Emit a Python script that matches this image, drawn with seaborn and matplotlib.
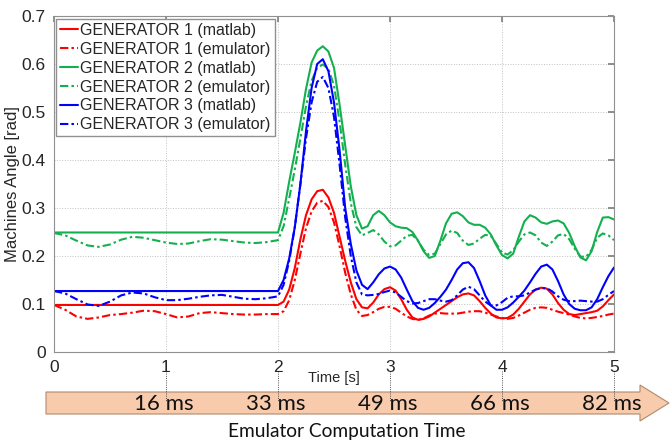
import numpy as np
import pandas as pd
import seaborn as sns
import matplotlib

matplotlib.use("Agg")
import matplotlib.pyplot as plt
from matplotlib.patches import Polygon

# time axis: 0.1 s steps in the steady part, 0.05 s steps after the fault
time_s = np.round(np.r_[np.arange(0, 2.01, 0.1), np.arange(2.05, 5.001, 0.05)], 2)

gen1_matlab = [0.098] * 21 + [
    0.105, 0.130, 0.175, 0.235, 0.285, 0.318, 0.335, 0.338, 0.322, 0.290,
    0.240, 0.190, 0.145, 0.110, 0.093, 0.091, 0.103, 0.120, 0.131, 0.135,
    0.128, 0.110, 0.088, 0.072, 0.067, 0.069, 0.074, 0.082, 0.090, 0.098,
    0.106, 0.114, 0.120, 0.122, 0.118, 0.106, 0.092, 0.080, 0.072, 0.070,
    0.071, 0.078, 0.090, 0.105, 0.120, 0.130, 0.134, 0.132, 0.120, 0.102,
    0.088, 0.079, 0.077, 0.079, 0.081, 0.083, 0.086, 0.095, 0.108, 0.120]
gen1_emulator = [
    0.098, 0.088, 0.074, 0.069, 0.072, 0.077, 0.079, 0.082, 0.086, 0.085,
    0.079, 0.072, 0.074, 0.081, 0.083, 0.081, 0.079, 0.078, 0.078, 0.079, 0.079] + [
    0.085, 0.108, 0.150, 0.205, 0.258, 0.293, 0.311, 0.315, 0.302, 0.270,
    0.220, 0.165, 0.120, 0.088, 0.075, 0.077, 0.083, 0.090, 0.094, 0.094,
    0.090, 0.082, 0.074, 0.069, 0.067, 0.070, 0.076, 0.080, 0.081, 0.080,
    0.080, 0.080, 0.082, 0.084, 0.085, 0.085, 0.082, 0.078, 0.074, 0.071,
    0.069, 0.071, 0.076, 0.082, 0.088, 0.092, 0.093, 0.092, 0.088, 0.084,
    0.081, 0.078, 0.074, 0.071, 0.070, 0.071, 0.073, 0.075, 0.078, 0.080]
gen2_matlab = [0.249] * 21 + [
    0.290, 0.355, 0.415, 0.478, 0.548, 0.603, 0.628, 0.637, 0.626, 0.592,
    0.515, 0.430, 0.345, 0.285, 0.257, 0.262, 0.285, 0.294, 0.285, 0.270,
    0.262, 0.259, 0.258, 0.250, 0.232, 0.210, 0.196, 0.200, 0.232, 0.268,
    0.288, 0.291, 0.283, 0.270, 0.265, 0.265, 0.259, 0.245, 0.222, 0.202,
    0.195, 0.205, 0.240, 0.272, 0.285, 0.280, 0.270, 0.267, 0.272, 0.274,
    0.268, 0.248, 0.220, 0.197, 0.191, 0.210, 0.250, 0.280, 0.281, 0.276]
gen2_emulator = [
    0.248, 0.243, 0.232, 0.222, 0.219, 0.224, 0.234, 0.240, 0.238, 0.233,
    0.228, 0.225, 0.226, 0.231, 0.235, 0.234, 0.231, 0.228, 0.227, 0.229, 0.233] + [
    0.262, 0.320, 0.380, 0.445, 0.512, 0.565, 0.592, 0.599, 0.590, 0.555,
    0.480, 0.390, 0.310, 0.260, 0.243, 0.248, 0.254, 0.245, 0.230, 0.220,
    0.222, 0.232, 0.242, 0.244, 0.232, 0.213, 0.202, 0.205, 0.225, 0.245,
    0.253, 0.248, 0.232, 0.223, 0.226, 0.236, 0.244, 0.242, 0.225, 0.207,
    0.203, 0.212, 0.230, 0.245, 0.249, 0.243, 0.228, 0.221, 0.230, 0.243,
    0.246, 0.235, 0.215, 0.199, 0.198, 0.213, 0.238, 0.247, 0.243, 0.233]
gen3_matlab = [0.127] * 21 + [
    0.150, 0.195, 0.260, 0.350, 0.460, 0.550, 0.600, 0.610, 0.585, 0.520,
    0.420, 0.300, 0.225, 0.170, 0.140, 0.131, 0.145, 0.162, 0.174, 0.178,
    0.172, 0.155, 0.130, 0.106, 0.092, 0.088, 0.092, 0.102, 0.115, 0.130,
    0.150, 0.172, 0.185, 0.187, 0.175, 0.148, 0.118, 0.097, 0.088, 0.088,
    0.093, 0.103, 0.115, 0.128, 0.145, 0.163, 0.178, 0.182, 0.172, 0.148,
    0.120, 0.100, 0.090, 0.087, 0.087, 0.093, 0.110, 0.135, 0.158, 0.176]
gen3_emulator = [
    0.127, 0.122, 0.110, 0.099, 0.096, 0.105, 0.118, 0.124, 0.122, 0.114,
    0.108, 0.108, 0.111, 0.115, 0.118, 0.119, 0.115, 0.111, 0.110, 0.112, 0.116] + [
    0.140, 0.190, 0.260, 0.350, 0.445, 0.520, 0.563, 0.573, 0.550, 0.490,
    0.390, 0.280, 0.200, 0.145, 0.120, 0.118, 0.119, 0.121, 0.125, 0.128,
    0.124, 0.115, 0.106, 0.101, 0.102, 0.106, 0.110, 0.110, 0.107, 0.105,
    0.108, 0.118, 0.130, 0.136, 0.131, 0.118, 0.105, 0.097, 0.097, 0.104,
    0.113, 0.116, 0.116, 0.118, 0.124, 0.130, 0.133, 0.133, 0.126, 0.116,
    0.109, 0.106, 0.106, 0.107, 0.106, 0.105, 0.105, 0.110, 0.119, 0.127]

series = {
    "GENERATOR 1 (matlab)": gen1_matlab,
    "GENERATOR 1 (emulator)": gen1_emulator,
    "GENERATOR 2 (matlab)": gen2_matlab,
    "GENERATOR 2 (emulator)": gen2_emulator,
    "GENERATOR 3 (matlab)": gen3_matlab,
    "GENERATOR 3 (emulator)": gen3_emulator,
}
colors = ["#ff0000", "#ff0000", "#14b04f", "#14b04f", "#0000ff", "#0000ff"]

tick_times = [1, 2, 3, 4, 5]
compute_labels = ["16 ms", "33 ms", "49 ms", "66 ms", "82 ms"]

df = pd.concat(
    [pd.DataFrame({"time": time_s, "angle": v, "series": k}) for k, v in series.items()]
)

sns.set_theme(style="white")
plt.rcParams["font.family"] = ["Liberation Sans", "DejaVu Sans"]

fig = plt.figure(figsize=(6.7, 4.41), dpi=100)
ax = fig.add_axes([54 / 670, 1 - 352 / 441, 560 / 670, 336 / 441])

for (name, vals), c in zip(series.items(), colors):
    ls = "-" if "matlab" in name else (0, (4, 1.5, 1.2, 1.5))
    sns.lineplot(data=df[df.series == name], x="time", y="angle", color=c,
                 linestyle=ls, lw=1.5, errorbar=None, label=name, ax=ax)

ax.set_xlim(0, 5)
ax.set_ylim(0, 0.7)
ax.set_xticks([0, 1, 2, 3, 4, 5])
ax.set_yticks([0, 0.1, 0.2, 0.3, 0.4, 0.5, 0.6, 0.7])
ax.set_yticklabels(["0", "0.1", "0.2", "0.3", "0.4", "0.5", "0.6", "0.7"])
ax.tick_params(direction="in", length=4, color="#808080", labelsize=12.5,
               top=True, right=True, pad=6)
ax.grid(True, linestyle=":", color="#c0c0c0", lw=0.7)
for s in ax.spines.values():
    s.set_color("#909090")
    s.set_linewidth(0.8)

ax.set_xlabel("Time [s]", fontsize=10.5)
ax.xaxis.set_label_coords(0.5, -0.058)
ax.set_ylabel("Machines Angle [rad]", fontsize=12, labelpad=1)

ax.legend(loc="upper left", bbox_to_anchor=(0.004, 0.991), borderaxespad=0,
          fontsize=11.5, frameon=True, fancybox=False, edgecolor="#909090",
          framealpha=1, handlelength=1.1, handletextpad=0.15, labelspacing=0.24,
          borderpad=0.25)

# computation time arrow below the axis
W, H = 670.0, 441.0
pts = [(46, 392), (640, 392), (640, 385), (669, 403), (640, 421), (640, 414), (46, 414)]
arrow = Polygon([(x / W, 1 - y / H) for x, y in pts], closed=True,
                transform=fig.transFigure, facecolor="#f8cbad",
                edgecolor="#b08a6e", lw=0.8, zorder=-1)
fig.patches.append(arrow)

ax.vlines(tick_times, -0.056, -0.146, transform=ax.get_xaxis_transform(),
          clip_on=False, colors="k", linestyles=":", lw=0.6)

for t, lab in zip(tick_times, compute_labels):
    fig.text((54 + 112 * t - 2) / W, 1 - 404 / H, lab, ha="center", va="center",
             fontsize=16, family="Lato", color="#111111", zorder=5)
fig.text(347 / W, 1 - 431 / H, "Emulator Computation Time", ha="center",
         va="center", fontsize=13.8, family="Lato", color="#111111")

fig.savefig("out.png", dpi=100)
